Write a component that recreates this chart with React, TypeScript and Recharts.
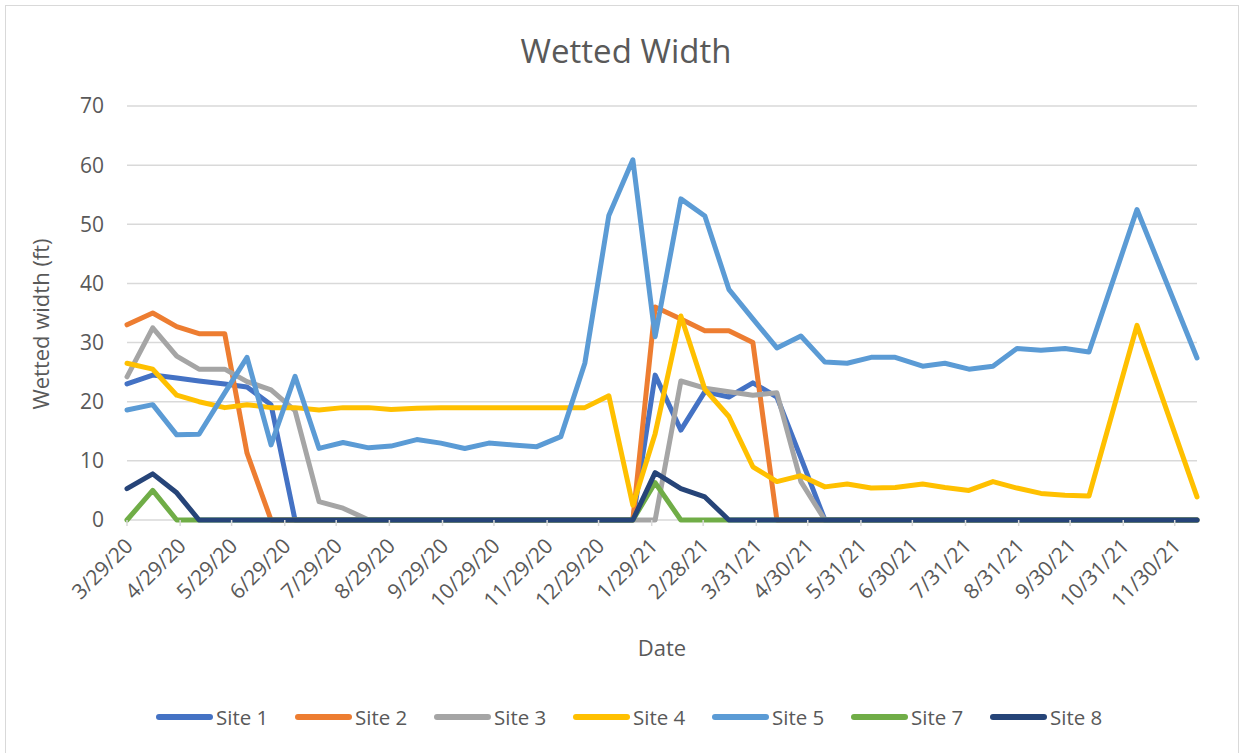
import React from 'react';
import { LineChart, Line, XAxis, YAxis, CartesianGrid } from 'recharts';

// sampling dates (roughly every two weeks)
const sampleDates = [
  '2020-03-29', '2020-04-13', '2020-04-27', '2020-05-10', '2020-05-25', '2020-06-07', '2020-06-21',
  '2020-07-05', '2020-07-19', '2020-08-02', '2020-08-17', '2020-08-30', '2020-09-14', '2020-09-28',
  '2020-10-12', '2020-10-26', '2020-11-09', '2020-11-23', '2020-12-07', '2020-12-21', '2021-01-04',
  '2021-01-18', '2021-01-31', '2021-02-15', '2021-03-01', '2021-03-15', '2021-03-29', '2021-04-12',
  '2021-04-26', '2021-05-10', '2021-05-23', '2021-06-06', '2021-06-20', '2021-07-06', '2021-07-19',
  '2021-08-02', '2021-08-16', '2021-08-30', '2021-09-13', '2021-09-27', '2021-10-11', '2021-11-08',
  '2021-12-13',
];

const site1 = [
  23, 24.5, 24, 23.5, 23, 22.5, 19.5, 0, 0, 0, 0, 0, 0, 0, 0, 0, 0, 0, 0, 0, 0, 0,
  24.5, 15.2, 21.7, 20.8, 23.2, 20.8, 10.5, 0, 0, 0, 0, 0, 0, 0, 0, 0, 0, 0, 0, 0, 0,
];
const site2 = [
  33, 35, 32.7, 31.5, 31.5, 11.3, 0, 0, 0, 0, 0, 0, 0, 0, 0, 0, 0, 0, 0, 0, 0, 0,
  36, 34, 32, 32, 30, 0, 0, 0, 0, 0, 0, 0, 0, 0, 0, 0, 0, 0, 0, 0, 0,
];
const site3 = [
  24.2, 32.5, 27.7, 25.5, 25.5, 23.4, 22, 18.5, 3.1, 2, 0, 0, 0, 0, 0, 0, 0, 0, 0, 0, 0, 0,
  0, 23.5, 22.3, 21.7, 21.1, 21.5, 6.5, 0, 0, 0, 0, 0, 0, 0, 0, 0, 0, 0, 0, 0, 0,
];
const site4 = [
  26.5, 25.5, 21.1, 20, 19, 19.5, 19, 19, 18.6, 19, 19, 18.7, 18.9, 19, 19, 19, 19, 19, 19, 19, 21, 2.5,
  14.6, 34.5, 22.1, 17.5, 9, 6.5, 7.5, 5.6, 6.1, 5.4, 5.5, 6.1, 5.5, 5, 6.5, 5.4, 4.5, 4.2, 4.05, 32.9, 3.9,
];
const site5 = [
  18.6, 19.5, 14.4, 14.5, 21.5, 27.5, 12.7, 24.3, 12.1, 13.1, 12.2, 12.5, 13.6, 13, 12.1, 13, 12.7, 12.4, 14.1, 26.5, 51.5, 60.9,
  31, 54.3, 51.4, 39, 34, 29.1, 31.1, 26.7, 26.5, 27.5, 27.5, 26, 26.5, 25.5, 26, 29, 28.7, 29, 28.4, 52.5, 27.4,
];
const site7 = [
  0, 5, 0, 0, 0, 0, 0, 0, 0, 0, 0, 0, 0, 0, 0, 0, 0, 0, 0, 0, 0, 0,
  6.3, 0, 0, 0, 0, 0, 0, 0, 0, 0, 0, 0, 0, 0, 0, 0, 0, 0, 0, 0, 0,
];
const site8 = [
  5.3, 7.8, 4.6, 0, 0, 0, 0, 0, 0, 0, 0, 0, 0, 0, 0, 0, 0, 0, 0, 0, 0, 0,
  8, 5.3, 3.9, 0, 0, 0, 0, 0, 0, 0, 0, 0, 0, 0, 0, 0, 0, 0, 0, 0, 0,
];

const tickDates = [
  '2020-03-29', '2020-04-29', '2020-05-29', '2020-06-29', '2020-07-29', '2020-08-29', '2020-09-29',
  '2020-10-29', '2020-11-29', '2020-12-29', '2021-01-29', '2021-02-28', '2021-03-31', '2021-04-30',
  '2021-05-31', '2021-06-30', '2021-07-31', '2021-08-31', '2021-09-30', '2021-10-31', '2021-11-30',
];
const yTicks = [0, 10, 20, 30, 40, 50, 60, 70];

const series = [
  { key: 'site1', name: 'Site 1', color: '#4472C4', values: site1 },
  { key: 'site2', name: 'Site 2', color: '#ED7D31', values: site2 },
  { key: 'site3', name: 'Site 3', color: '#A5A5A5', values: site3 },
  { key: 'site4', name: 'Site 4', color: '#FFC000', values: site4 },
  { key: 'site5', name: 'Site 5', color: '#5B9BD5', values: site5 },
  { key: 'site7', name: 'Site 7', color: '#70AD47', values: site7 },
  { key: 'site8', name: 'Site 8', color: '#264478', values: site8 },
];

const dayNum = (s: string) =>
  Date.UTC(+s.slice(0, 4), +s.slice(5, 7) - 1, +s.slice(8, 10)) / 86400000;

const fmtDate = (d: number) => {
  const dt = new Date(d * 86400000);
  return `${dt.getUTCMonth() + 1}/${dt.getUTCDate()}/${String(dt.getUTCFullYear()).slice(2)}`;
};

const rows = sampleDates.map((d, i) => {
  const row: Record<string, number> = { t: dayNum(d) };
  series.forEach((s) => { row[s.key] = s.values[i]; });
  return row;
});

const xTicks = tickDates.map(dayNum);
const FONT = '"Open Sans", sans-serif';
const TEXT = '#595959';

const DateTick = (props: any) => {
  const { x, y, payload } = props;
  return (
    <g transform={`translate(${x + 2},${y + 14})`}>
      <text x={0} y={0} dy="0.35em" textAnchor="end" transform="rotate(-45)" fill={TEXT} fontSize={21} fontFamily={FONT}>
        {fmtDate(payload.value)}
      </text>
    </g>
  );
};

const App: React.FC = () => {
  return (
    <div style={{ position: 'absolute', left: 0, top: 0, width: 1243, height: 753, background: '#fff', fontFamily: FONT, overflow: 'hidden' }}>
      <div style={{ position: 'absolute', left: 5, top: 5, width: 1232, height: 760, border: '1.5px solid #d9d9d9' }} />

      <div style={{ position: 'absolute', left: 626, top: 50, transform: 'translate(-50%, -50%)', whiteSpace: 'nowrap', fontSize: 33, color: TEXT }}>
        Wetted Width
      </div>

      <LineChart width={1243} height={753} data={rows} margin={{ top: 106, right: 46, bottom: 113, left: 0 }} style={{ position: 'absolute', left: 0, top: 0 }}>
        <CartesianGrid vertical={false} stroke="#d9d9d9" strokeWidth={1.5} />
        <XAxis
          dataKey="t"
          type="number"
          domain={[xTicks[0], dayNum(sampleDates[sampleDates.length - 1])]}
          ticks={xTicks}
          interval={0}
          height={120}
          tick={<DateTick />}
          tickSize={6}
          tickLine={{ stroke: '#d9d9d9', strokeWidth: 1.5 }}
          axisLine={false}
        />
        <YAxis
          type="number"
          domain={[0, 70]}
          ticks={yTicks}
          width={127}
          axisLine={false}
          tickLine={false}
          tickMargin={17}
          tick={{ fontSize: 21, fill: TEXT, fontFamily: FONT }}
        />
        {series.map((s) => (
          <Line
            key={s.key}
            type="linear"
            dataKey={s.key}
            name={s.name}
            stroke={s.color}
            strokeWidth={5}
            strokeLinejoin="round"
            strokeLinecap="round"
            dot={false}
            isAnimationActive={false}
          />
        ))}
      </LineChart>

      {/* axis titles */}
      <div style={{ position: 'absolute', left: 40, top: 324, transform: 'translate(-50%, -50%) rotate(-90deg)', whiteSpace: 'nowrap', fontSize: 22, color: TEXT }}>
        Wetted width (ft)
      </div>
      <div style={{ position: 'absolute', left: 662, top: 647, transform: 'translate(-50%, -50%)', whiteSpace: 'nowrap', fontSize: 22, color: TEXT }}>
        Date
      </div>

      {/* legend */}
      <div style={{ position: 'absolute', left: 156, top: 702, display: 'flex', height: 30, alignItems: 'center' }}>
        {series.map((s) => (
          <div key={s.key} style={{ width: 139, display: 'flex', alignItems: 'center' }}>
            <span style={{ width: 57, height: 6, borderRadius: 3, background: s.color, marginRight: 3 }} />
            <span style={{ fontSize: 20.5, color: TEXT }}>{s.name}</span>
          </div>
        ))}
      </div>
    </div>
  );
};

export default App;
